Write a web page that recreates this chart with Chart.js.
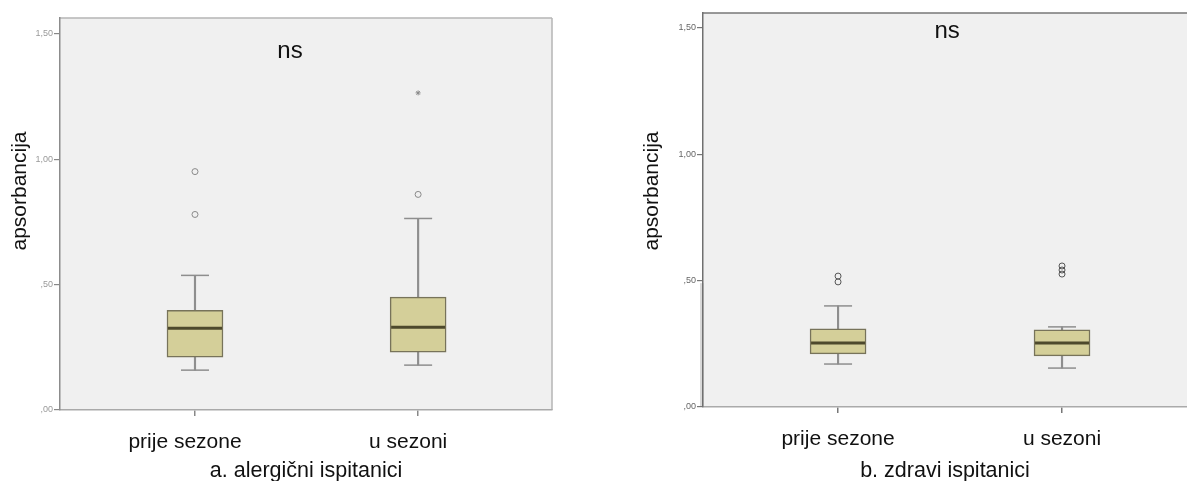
<!DOCTYPE html>
<html><head><meta charset="utf-8">
<script src="https://cdn.jsdelivr.net/npm/chart.js@4.4.1/dist/chart.umd.min.js"></script>
<style>
html,body{margin:0;padding:0;background:#fff;width:1187px;height:481px;overflow:hidden}
#c1{position:absolute;left:0;top:0}
#c2{position:absolute;left:590px;top:0}
</style></head><body>
<canvas id="c1" width="590" height="481"></canvas>
<canvas id="c2" width="597" height="481"></canvas>
<script>
const categories = ['prije sezone', 'u sezoni'];
const yTickValues = [0, 0.5, 1.0, 1.5];
const yTitle = 'apsorbancija';
const significance = 'ns';

// a. alergični ispitanici
const aMin = [0.159, 0.179];
const aQ1 = [0.211, 0.231];
const aMedian = [0.326, 0.330];
const aQ3 = [0.398, 0.450];
const aMax = [0.537, 0.764];
const aOutliers = [[0.951, 0.780], [0.860]];
const aExtremes = [[], [1.265]];

// b. zdravi ispitanici
const bMin = [0.170, 0.154];
const bQ1 = [0.210, 0.202];
const bMedian = [0.253, 0.253];
const bQ3 = [0.309, 0.305];
const bMax = [0.400, 0.317];
const bOutliers = [[0.518, 0.495], [0.558, 0.542, 0.526]];
const bExtremes = [[], []];

const FONT = "'Liberation Sans', Arial, sans-serif";

function fmtTick(v) {
  let s = v.toFixed(2).replace('.', ',');
  if (s.startsWith('0')) s = s.slice(1);
  return s;
}

const decor = {
  id: 'decor',
  beforeDraw(chart, args, o) {
    const {ctx, chartArea: a} = chart;
    ctx.save();
    ctx.fillStyle = '#f0f0f0';
    ctx.fillRect(a.left, a.top, a.right - a.left, a.bottom - a.top);
    ctx.strokeStyle = o.frameColor;
    ctx.lineWidth = 1.5;
    ctx.beginPath();
    ctx.moveTo(a.left, a.top); ctx.lineTo(a.right, a.top);
    if (o.rightFrame) { ctx.moveTo(a.right, a.top); ctx.lineTo(a.right, a.bottom); }
    ctx.stroke();
    if (o.shadeFrom !== undefined) {
      const y0 = chart.scales.y.getPixelForValue(o.shadeFrom);
      ctx.fillStyle = '#d9d9d9';
      ctx.fillRect(a.left - 3, y0, 4, a.bottom - y0);
    }
    ctx.restore();
  },
  afterDraw(chart, args, o) {
    const {ctx, chartArea: a} = chart;
    ctx.save();
    ctx.fillStyle = '#111';
    ctx.font = '24px ' + FONT;
    ctx.textAlign = 'center';
    ctx.textBaseline = 'middle';
    ctx.fillText(significance, chart.scales.x.getPixelForValue(o.nsX), a.top + o.nsDy);
    ctx.translate(o.titleX, o.titleY);
    ctx.rotate(-Math.PI / 2);
    ctx.font = '21px ' + FONT;
    ctx.fillText(yTitle, 0, 0);
    ctx.restore();
  }
};

function build(canvas, p) {
  const pts = (arr) => arr.map((v, i) => ({x: i, y: v}));
  const flat = (arrs) => arrs.flatMap((list, i) => list.map(v => ({x: i, y: v})));
  const datasets = [
    { type: 'bar', label: 'whisker', order: 6, grouped: false,
      data: p.min.map((v, i) => ({x: i, y: [v, p.max[i]]})),
      barThickness: 1.5, backgroundColor: p.whisker, borderWidth: 0 },
    { type: 'bar', label: 'box', order: 5, grouped: false,
      data: p.q1.map((v, i) => ({x: i, y: [v, p.q3[i]]})),
      barThickness: 56, backgroundColor: '#d4cf99', borderColor: '#77735a',
      borderWidth: 1.5, borderSkipped: false },
    { type: 'line', label: 'caps', order: 4, showLine: false,
      data: pts(p.max).concat(pts(p.min)),
      pointStyle: 'line', pointRadius: 14, pointHoverRadius: 14,
      borderColor: p.whisker, pointBorderWidth: 1.5 },
    { type: 'line', label: 'median', order: 3, showLine: false,
      data: pts(p.median),
      pointStyle: 'line', pointRadius: 27, pointHoverRadius: 27,
      borderColor: '#4d492c', pointBorderWidth: 3 },
    { type: 'line', label: 'outliers', order: 2, showLine: false,
      data: flat(p.outliers),
      pointStyle: 'circle', pointRadius: 3, pointHoverRadius: 3,
      borderColor: p.outlier, backgroundColor: 'rgba(0,0,0,0)', pointBorderWidth: 1 },
    { type: 'line', label: 'extremes', order: 1, showLine: false,
      data: flat(p.extremes),
      pointStyle: 'star', pointRadius: 2.5, pointHoverRadius: 2.5,
      borderColor: p.outlier, pointBorderWidth: 1 }
  ];
  return new Chart(canvas, {
    type: 'bar',
    data: { datasets },
    plugins: [decor],
    options: {
      responsive: false, animation: false, events: [],
      layout: { padding: p.padding, autoPadding: false },
      plugins: { legend: { display: false }, tooltip: { enabled: false }, decor: p.decor },
      scales: {
        x: {
          type: 'linear', min: p.xMin, max: p.xMax, offset: false,
          afterBuildTicks: s => { s.ticks = categories.map((c, i) => ({value: i})); },
          afterFit: s => { s.height = p.xHeight; },
          grid: { offset: false, drawOnChartArea: false, drawTicks: true, tickLength: 6, color: p.tickColor, lineWidth: 1.5 },
          border: { color: p.bottomColor, width: 1.5 },
          ticks: { callback: v => categories[v], color: '#111', padding: 14, labelOffset: p.labelOffset,
                   font: { family: FONT, size: 21 }, maxRotation: 0 },
          title: { display: true, text: p.subtitle, color: '#111', font: { family: FONT, size: 21.5 },
                   padding: { top: 0, bottom: -3 } }
        },
        y: {
          type: 'linear', min: 0, max: p.yMax,
          afterBuildTicks: s => { s.ticks = yTickValues.map(v => ({value: v})); },
          afterFit: s => { s.width = p.yWidth; },
          grid: { drawOnChartArea: false, drawTicks: true, tickLength: 6, color: p.tickColor, lineWidth: 1.2 },
          border: { color: p.leftColor, width: 1.5 },
          ticks: { callback: v => fmtTick(v), color: p.tickLabelColor, padding: 1,
                   font: { family: FONT, size: 9 } }
        }
      }
    }
  });
}

build(document.getElementById('c1'), {
  min: aMin, q1: aQ1, median: aMedian, q3: aQ3, max: aMax,
  outliers: aOutliers, extremes: aExtremes,
  whisker: '#8e8e8e', outlier: '#8a8a8a',
  padding: { left: 0, top: 18, right: 38, bottom: 0 },
  xMin: -0.605, xMax: 1.6, yMax: 1.5637, xHeight: 71, yWidth: 60,
  labelOffset: -10, subtitle: 'a. alergični ispitanici',
  tickColor: '#888', bottomColor: '#a9a9a9', leftColor: '#8c8c8c', tickLabelColor: '#999',
  decor: { frameColor: '#b5b5b5', rightFrame: true, nsX: 0.426, nsDy: 33, titleX: 20, titleY: 191 }
});

build(document.getElementById('c2'), {
  min: bMin, q1: bQ1, median: bMedian, q3: bQ3, max: bMax,
  outliers: bOutliers, extremes: bExtremes,
  whisker: '#8e8e8e', outlier: '#555',
  padding: { left: 0, top: 13, right: 0, bottom: 0 },
  xMin: -0.603, xMax: 1.558, yMax: 1.559, xHeight: 74, yWidth: 113,
  labelOffset: 0, subtitle: 'b. zdravi ispitanici',
  tickColor: '#777', bottomColor: '#aaaaaa', leftColor: '#707070', tickLabelColor: '#666',
  decor: { frameColor: '#777', rightFrame: false, nsX: 0.487, nsDy: 18, titleX: 62, titleY: 191, shadeFrom: 0.49 }
});
</script>
</body></html>
